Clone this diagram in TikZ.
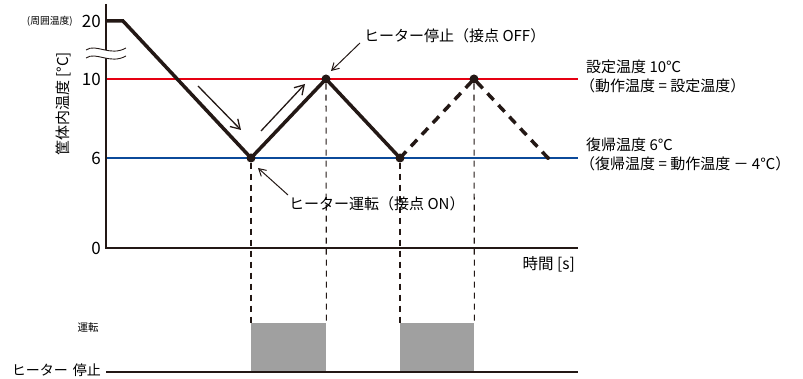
\documentclass[tikz,border=0pt]{standalone}
\usepackage{fontspec}
\setmainfont{Noto Sans CJK JP}
\usetikzlibrary{arrows.meta}
\definecolor{ink}{HTML}{231815}
\definecolor{setred}{HTML}{E60012}
\definecolor{retblue}{HTML}{0B4A9A}
\definecolor{boxgray}{HTML}{A0A0A0}
\tikzset{
  axis/.style={ink, line width=2pt},
  temp/.style={ink, line width=3.5pt, line join=miter},
  tempdash/.style={ink, line width=3.5pt, dash pattern=on 9pt off 7pt},
  guide/.style={ink, line width=1.1pt, dash pattern=on 6pt off 5pt},
  lbl/.style={inner sep=0pt, font=\fontsize{15}{18}\selectfont},
  small/.style={inner sep=0pt, font=\fontsize{10.5}{12}\selectfont},
  num/.style={inner sep=0pt, font=\fontsize{17}{20}\selectfont, anchor=east},
  dot/.style={circle, fill=ink, inner sep=0pt, minimum size=9pt},
  tinydot/.style={circle, fill=ink, inner sep=0pt, minimum size=4pt},
  trend/.style={ink, line width=1.3pt, -{Straight Barb[length=9pt,width=11pt,line width=1.3pt]}},
  callout/.style={ink, line width=1pt, -{Straight Barb[length=7pt,width=8pt,line width=1pt]}},
}
\begin{document}
\begin{tikzpicture}[x=1pt,y=-1pt]
\useasboundingbox (0,0) rectangle (803,379);
% coordinates
\coordinate (ytop) at (106,4);
\coordinate (O) at (106,248);
\coordinate (xend) at (578,248);
\coordinate (r0) at (106,79);
\coordinate (r1) at (578,79);
\coordinate (b0) at (106,158);
\coordinate (b1) at (578,158);
\coordinate (s0) at (106,21);
\coordinate (s1) at (123,21);
% reference lines
\draw[setred, line width=2pt] (r0) -- (r1);
\draw[retblue, line width=2pt] (b0) -- (b1);
% axes
\draw[axis] (ytop) -- (O) -- (xend);
% break mark
\fill[white] (86,50) .. controls (96,43) and (110,57) .. (126,48) -- (126,56) .. controls (110,65) and (96,51) .. (86,58) -- cycle;
\draw[ink, line width=0.9pt] (86,50) .. controls (96,43) and (110,57) .. (126,48);
\draw[ink, line width=0.9pt] (86,58) .. controls (96,51) and (110,65) .. (126,56);
% dots
\node[dot] (p1) at (251,158) {};
\node[dot] (p2) at (326,79) {};
\node[dot] (p3) at (400,158) {};
\node[dot] (p4) at (474,79) {};
\node[tinydot] (p5) at (548,158) {};
% lower chart
\coordinate (h0) at (106,372);
\coordinate (h1) at (578,372);
\node[fill=boxgray, inner sep=0pt, minimum width=75pt, minimum height=49pt, anchor=north west] (on1) at (251,323) {};
\node[fill=boxgray, inner sep=0pt, minimum width=74pt, minimum height=49pt, anchor=north west] (on2) at (400,323) {};
\draw[ink, line width=2.5pt] (h0) -- (h1);
% guides
\draw[guide] (p1) -- (on1.north west);
\draw[guide] (p2) -- (on1.north east);
\draw[guide] (p3) -- (on2.north west);
\draw[guide] (p4) -- (on2.north east);
% temperature curve
\draw[temp] (s0) -- (s1) -- (p1.center) -- (p2.center) -- (p3.center);
\draw[tempdash] (p3.center) -- (p4.center) -- (p5.center);
% trend arrows
\coordinate (d0) at (198,86);
\coordinate (d1) at (241,130);
\coordinate (u0) at (261,131);
\coordinate (u1) at (305,84);
\draw[trend] (d0) -- (d1);
\draw[trend] (u0) -- (u1);
% axis numbers
\node[num] (n20) at (101,21) {20};
\node[num] (n10) at (101,79) {10};
\node[num] (n6) at (101,158) {6};
\node[num] (n0) at (101,248) {0};
\node[small, anchor=east, font=\fontsize{9.8}{12}\selectfont] (amb) at (73,21) {(周囲温度)};
\node[lbl, rotate=90, font=\fontsize{15}{18}\selectfont] (ylab) at (63,104) {筐体内温度 [°C]};
\node[lbl, anchor=east, font=\fontsize{15.5}{18}\selectfont] (xlab) at (575,264) {時間 [s]};
% annotations
\node[lbl, anchor=west] (off) at (364,36) {ヒーター停止（接点 OFF）};
\node[lbl, anchor=west] (on) at (289,204) {ヒーター運転（接点 ON）};
\coordinate (offtail) at (360,43);
\coordinate (offtip) at (331,71);
\coordinate (ontail) at (288,195);
\coordinate (ontip) at (258,168);
\draw[callout] (offtail) -- (offtip);
\draw[callout] (ontail) -- (ontip);
% right labels
\node[lbl, anchor=west] (set1) at (586,67) {設定温度 10℃};
\node[lbl, anchor=west] (set2) at (580,86) {（動作温度 = 設定温度）};
\node[lbl, anchor=west] (ret1) at (586,145) {復帰温度 6℃};
\node[lbl, anchor=west] (ret2) at (580,164) {（復帰温度 = 動作温度 － 4℃）};
% lower labels
\node[small, anchor=center] (run) at (88,328) {運転};
\node[lbl, anchor=east, font=\fontsize{14}{16}\selectfont] (stop) at (101,370) {ヒーター\hspace{5pt}停止};
\end{tikzpicture}
\end{document}
